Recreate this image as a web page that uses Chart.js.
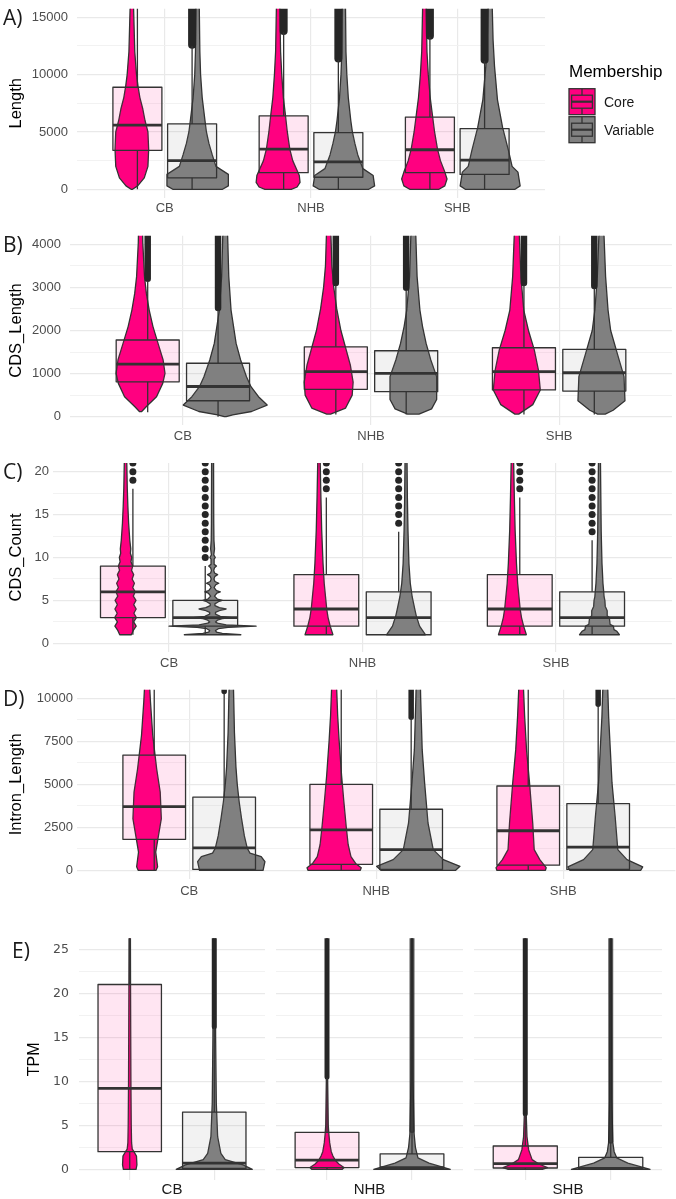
<!DOCTYPE html>
<html>
<head>
<meta charset="utf-8">
<script src="https://cdn.jsdelivr.net/npm/chart.js@4.4.1/dist/chart.umd.min.js"></script>
<style>
  body { margin: 0; background: #fff; width: 676px; height: 1199px; position: relative; overflow: hidden; }
  .panel { position: absolute; }
  .tag { position: absolute; font-family: 'Open Sans', sans-serif; font-size: 21px; line-height: 24px; color: #1a1a1a; z-index: 2; }
</style>
</head>
<body>
<div class="panel" style="left:0;top:0;width:676px;height:230px"><canvas id="cA"></canvas></div>
<div class="panel" style="left:0;top:228px;width:676px;height:230px"><canvas id="cB"></canvas></div>
<div class="panel" style="left:0;top:456px;width:676px;height:230px"><canvas id="cC"></canvas></div>
<div class="panel" style="left:0;top:684px;width:676px;height:232px"><canvas id="cD"></canvas></div>
<div class="panel" style="left:0;top:920px;width:265px;height:279px"><canvas id="cE1"></canvas></div>
<div class="panel" style="left:276px;top:920px;width:187px;height:279px"><canvas id="cE2"></canvas></div>
<div class="panel" style="left:474px;top:920px;width:188px;height:279px"><canvas id="cE3"></canvas></div>

<div class="tag" style="left:3px;top:5px">A)</div>
<div class="tag" style="left:3px;top:232px">B)</div>
<div class="tag" style="left:3px;top:459px">C)</div>
<div class="tag" style="left:3px;top:686px">D)</div>
<div class="tag" style="left:12px;top:938px">E)</div>

<script>
// ---- data ----
const categories = ['CB', 'NHB', 'SHB'];
const memberships = ['Core', 'Variable'];

// box = [lower whisker, q1, median, q3, upper whisker]
// violin = [value, half width (x units)]

// A) Length
const lengthTicks = [0, 5000, 10000, 15000];
const lengthBoxCore = [[0, 3400, 5600, 8900, 17500], [0, 1450, 3500, 6400, 13700], [0, 1450, 3450, 6300, 13300]];
const lengthBoxVariable = [[0, 1000, 2500, 5700, 12500], [0, 1050, 2400, 4950, 11300], [0, 1300, 2550, 5300, 11200]];
const lengthOutFromCore = [null, 13800, 13400];
const lengthOutFromVariable = [12600, 11400, 11300];
const lengthViolinCore = [
  [[0, 0.005], [300, 0.04], [1000, 0.085], [2000, 0.11], [3500, 0.115], [5000, 0.11], [6000, 0.09], [7000, 0.075], [8000, 0.055], [9000, 0.042], [10000, 0.032], [12000, 0.02], [15750, 0.012], [17000, 0.01]],
  [[0, 0.09], [200, 0.13], [600, 0.15], [1200, 0.145], [2500, 0.1], [3500, 0.08], [5000, 0.063], [6500, 0.05], [8000, 0.036], [10000, 0.025], [12000, 0.017], [17000, 0.01]],
  [[0, 0.1], [300, 0.14], [900, 0.155], [1500, 0.14], [2500, 0.11], [3500, 0.09], [5000, 0.07], [6500, 0.055], [8000, 0.04], [10000, 0.027], [12000, 0.018], [17000, 0.01]]
];
const lengthViolinVariable = [
  [[0, 0.17], [300, 0.21], [1300, 0.21], [2000, 0.125], [3000, 0.1], [4000, 0.077], [5000, 0.06], [6000, 0.05], [8000, 0.031], [10000, 0.02], [12000, 0.015], [17000, 0.01]],
  [[0, 0.17], [300, 0.21], [1200, 0.2], [1800, 0.13], [3000, 0.095], [4000, 0.075], [5000, 0.058], [6000, 0.047], [8000, 0.03], [10000, 0.02], [12000, 0.014], [17000, 0.01]],
  [[0, 0.17], [300, 0.205], [1500, 0.19], [2000, 0.15], [3400, 0.125], [5400, 0.085], [7800, 0.05], [10700, 0.03], [13000, 0.02], [17000, 0.012]]
];

// B) CDS_Length
const cdsLengthTicks = [0, 1000, 2000, 3000, 4000];
const cdsLengthBoxCore = [[100, 810, 1220, 1780, 3150], [50, 635, 1045, 1620, 3050], [50, 620, 1045, 1600, 3050]];
const cdsLengthBoxVariable = [[0, 370, 700, 1240, 2470], [50, 580, 1005, 1530, 2940], [50, 595, 1020, 1560, 2980]];
const cdsLengthOutFromCore = [3200, 3100, 3100];
const cdsLengthOutFromVariable = [2520, 2990, 3030];
const cdsLengthViolinCore = [
  [[116, 0.005], [230, 0.03], [464, 0.085], [773, 0.118], [1005, 0.13], [1315, 0.12], [1700, 0.093], [2090, 0.066], [2475, 0.046], [2860, 0.031], [3250, 0.021], [4030, 0.012], [4500, 0.01]],
  [[60, 0.01], [200, 0.09], [500, 0.125], [800, 0.13], [1200, 0.115], [1600, 0.09], [2000, 0.065], [2500, 0.043], [3000, 0.027], [3500, 0.017], [4500, 0.01]],
  [[60, 0.01], [280, 0.085], [620, 0.125], [1080, 0.115], [1550, 0.093], [2000, 0.062], [2475, 0.037], [3250, 0.022], [4500, 0.011]]
];
const cdsLengthViolinVariable = [
  [[0, 0.005], [40, 0.04], [120, 0.14], [270, 0.223], [464, 0.177], [696, 0.137], [928, 0.113], [1315, 0.082], [1700, 0.058], [2475, 0.031], [3250, 0.019], [4500, 0.011]],
  [[60, 0.03], [180, 0.097], [400, 0.124], [930, 0.124], [1315, 0.093], [1700, 0.068], [2090, 0.049], [2475, 0.035], [3250, 0.02], [4500, 0.011]],
  [[60, 0.02], [150, 0.062], [370, 0.125], [930, 0.12], [1470, 0.084], [2000, 0.049], [2475, 0.035], [3250, 0.022], [4500, 0.011]]
];

// C) CDS_Count
const cdsCountTicks = [0, 5, 10, 15, 20];
const cdsCountBoxCore = [[1, 3, 6, 9, 18], [1, 2, 4, 8, 17], [1, 2, 4, 8, 17]];
const cdsCountBoxVariable = [[1, 2, 3, 5, 9], [1, 1, 3, 6, 13], [1, 2, 3, 6, 12]];
const cdsCountOutCore = [[19, 20, 21], [18, 19, 20, 21], [18, 19, 20, 21]];
const cdsCountOutVariable = [
  [10, 11, 12, 13, 14, 15, 16, 17, 18, 19, 20, 21],
  [14, 15, 16, 17, 18, 19, 20, 21],
  [13, 14, 15, 16, 17, 18, 19, 20, 21]
];
const cdsCountViolinCore = [
  [[1, 0.03], [1.5, 0.04], [2, 0.055], [2.5, 0.042], [3, 0.056], [3.5, 0.043], [4, 0.055], [4.5, 0.042], [5, 0.054], [5.5, 0.04], [6, 0.05], [6.5, 0.037], [7, 0.046], [7.5, 0.034], [8, 0.042], [8.5, 0.031], [9, 0.037], [9.5, 0.028], [10, 0.032], [10.5, 0.025], [11, 0.027], [12, 0.022], [13, 0.019], [14, 0.016], [15, 0.014], [16, 0.012], [18, 0.009], [21.5, 0.006]],
  [[1, 0.072], [1.3, 0.068], [2, 0.058], [3, 0.047], [4, 0.04], [5.4, 0.034], [7, 0.027], [9.3, 0.021], [13.2, 0.014], [17, 0.01], [21.5, 0.006]],
  [[1, 0.072], [1.3, 0.068], [2, 0.058], [3, 0.047], [4, 0.04], [5.4, 0.034], [7, 0.027], [9.3, 0.021], [13.2, 0.014], [17, 0.01], [21.5, 0.006]]
];
const cdsCountViolinVariable = [
  [[1, 0.146], [1.15, 0.05], [1.3, 0.02], [1.5, 0.015], [1.7, 0.03], [1.85, 0.08], [2, 0.225], [2.15, 0.07], [2.35, 0.025], [2.5, 0.015], [2.7, 0.025], [2.88, 0.05], [3, 0.1], [3.15, 0.04], [3.4, 0.015], [3.6, 0.015], [3.85, 0.04], [4, 0.07], [4.15, 0.035], [4.4, 0.012], [4.6, 0.012], [4.85, 0.03], [5, 0.05], [5.15, 0.025], [5.5, 0.01], [5.85, 0.022], [6, 0.04], [6.15, 0.02], [6.5, 0.008], [6.85, 0.017], [7, 0.032], [7.2, 0.012], [7.5, 0.007], [7.8, 0.012], [8, 0.026], [8.2, 0.01], [8.5, 0.006], [8.8, 0.01], [9, 0.02], [9.2, 0.008], [9.8, 0.008], [10, 0.014], [10.3, 0.006], [11, 0.01], [12, 0.007], [14, 0.006], [21.5, 0.005]],
  [[1, 0.1], [1.5, 0.085], [2, 0.07], [3.2, 0.053], [4, 0.045], [5.4, 0.032], [7, 0.022], [9.3, 0.015], [13.2, 0.01], [17, 0.007], [21.5, 0.005]],
  [[1, 0.103], [1.4, 0.09], [1.6, 0.075], [2, 0.072], [2.2, 0.055], [2.8, 0.052], [3, 0.05], [3.2, 0.04], [3.8, 0.04], [4, 0.036], [4.3, 0.03], [5, 0.028], [5.4, 0.024], [6, 0.022], [7, 0.018], [8, 0.016], [9.3, 0.013], [13, 0.009], [21.5, 0.005]]
];

// D) Intron_Length
const intronTicks = [0, 2500, 5000, 7500, 10000];
const intronBoxCore = [[0, 1800, 3700, 6700, 13000], [0, 350, 2350, 5000, 12000], [0, 300, 2300, 4900, 11500]];
const intronBoxVariable = [[0, 50, 1300, 4250, 10300], [0, 50, 1200, 3550, 8850], [0, 50, 1350, 3880, 9600]];
const intronOutFromCore = [null, null, null];
const intronOutFromVariable = [10400, 8900, 9650];
const intronViolinCore = [
  [[0, 0.048], [200, 0.056], [1060, 0.046], [1840, 0.058], [3000, 0.076], [4550, 0.07], [5900, 0.051], [7850, 0.03], [9780, 0.018], [11000, 0.012]],
  [[0, 0.14], [150, 0.145], [400, 0.115], [800, 0.09], [1500, 0.075], [2500, 0.065], [4000, 0.052], [5500, 0.04], [7500, 0.027], [9000, 0.019], [11000, 0.012]],
  [[0, 0.13], [150, 0.134], [620, 0.1], [1200, 0.07], [2750, 0.062], [5080, 0.045], [7000, 0.029], [8920, 0.019], [11000, 0.011]]
];
const intronViolinVariable = [
  [[0, 0.17], [500, 0.18], [800, 0.16], [1000, 0.1], [1300, 0.085], [2000, 0.07], [3000, 0.055], [4000, 0.042], [5000, 0.032], [6000, 0.025], [8000, 0.017], [11000, 0.011]],
  [[0, 0.2], [230, 0.223], [620, 0.134], [1200, 0.08], [2750, 0.052], [5080, 0.034], [7000, 0.021], [9930, 0.013], [11000, 0.011]],
  [[0, 0.19], [200, 0.2], [620, 0.116], [1200, 0.067], [3100, 0.053], [5080, 0.036], [7000, 0.027], [8920, 0.018], [11000, 0.012]]
];

// E) TPM (one facet per category, x = membership)
const tpmTicks = [0, 5, 10, 15, 20, 25];
const tpmBoxCore = [[0, 2, 9.2, 21, 40], [0, 0.2, 1.05, 4.2, 10.4], [0, 0.15, 0.65, 2.65, 6.2]];
const tpmBoxVariable = [[0, 0.1, 0.7, 6.5, 16.1], [0, 0.05, 0.2, 1.75, 4.3], [0, 0.05, 0.1, 1.35, 3.1]];
const tpmOutFromCore = [null, 10.5, 6.3];
const tpmOutFromVariable = [16.2, 4.4, 3.2];
const tpmViolinCore = [
  [[0, 0.075], [0.5, 0.085], [1.5, 0.08], [2, 0.05], [2.3, 0.03], [3, 0.022], [5, 0.018], [10, 0.014], [20, 0.01], [27, 0.008]],
  [[0, 0.18], [0.2, 0.2], [0.6, 0.14], [1, 0.1], [1.5, 0.07], [2, 0.05], [3, 0.032], [4, 0.022], [5, 0.015], [10, 0.008], [27, 0.005]],
  [[0, 0.2], [0.2, 0.26], [0.6, 0.16], [1.1, 0.08], [2.2, 0.04], [3.7, 0.02], [6, 0.012], [27, 0.005]]
];
const tpmViolinVariable = [
  [[0, 0.45], [0.5, 0.34], [1.1, 0.13], [1.8, 0.078], [3.7, 0.04], [7.5, 0.024], [15, 0.016], [27, 0.012]],
  [[0, 0.45], [0.7, 0.2], [1.3, 0.07], [2.5, 0.04], [4, 0.025], [10, 0.012], [27, 0.008]],
  [[0, 0.46], [0.7, 0.2], [1.3, 0.07], [2, 0.04], [3, 0.025], [8, 0.012], [27, 0.008]]
];

// ---- styles ----
Chart.defaults.font.family = "'Liberation Sans', Arial, sans-serif";
const CORE_COL = '#ff0080', VAR_COL = '#808080';
const CORE_BOX = 'rgba(255,0,128,0.1)', VAR_BOX = 'rgba(128,128,128,0.1)';
const INK = '#333333';
const TXT = '#4d4d4d';

function drawGroup(ctx, xs, ys, g, colW) {
  const px = v => xs.getPixelForValue(v);
  const py = v => ys.getPixelForValue(v);
  ctx.lineJoin = 'round';
  // violin
  const vc = g.pos + g.violinOff;
  ctx.beginPath();
  g.violin.forEach(([v, w], i) => {
    if (i) ctx.lineTo(px(vc - w), py(v)); else ctx.moveTo(px(vc - w), py(v));
  });
  for (let i = g.violin.length - 1; i >= 0; i--) {
    const [v, w] = g.violin[i];
    ctx.lineTo(px(vc + w), py(v));
  }
  ctx.closePath();
  ctx.fillStyle = g.color;
  ctx.fill();
  ctx.lineWidth = 1.3;
  ctx.strokeStyle = INK;
  ctx.stroke();

  // boxplot
  const [lo, q1, med, q3, hi] = g.box;
  const bc = px(g.pos + g.boxOff);
  const bl = px(g.pos + g.boxOff - g.boxWidth / 2);
  const br = px(g.pos + g.boxOff + g.boxWidth / 2);
  if (g.outFrom != null) {
    ctx.save();
    ctx.lineCap = 'round';
    ctx.lineWidth = colW;
    ctx.strokeStyle = g.outColor || '#262626';
    ctx.beginPath();
    ctx.moveTo(bc, py(g.outFrom));
    ctx.lineTo(bc, py(ys.max) - 20);
    ctx.stroke();
    ctx.restore();
  }
  ctx.lineWidth = 1.3;
  ctx.strokeStyle = INK;
  ctx.beginPath();
  ctx.moveTo(bc, py(lo)); ctx.lineTo(bc, py(q1));
  ctx.moveTo(bc, py(q3)); ctx.lineTo(bc, py(hi));
  ctx.stroke();
  ctx.fillStyle = g.boxFill;
  ctx.fillRect(bl, py(q3), br - bl, py(q1) - py(q3));
  ctx.strokeRect(bl, py(q3), br - bl, py(q1) - py(q3));
  ctx.lineWidth = 2.8;
  ctx.beginPath();
  ctx.moveTo(bl, py(med)); ctx.lineTo(br, py(med));
  ctx.stroke();
}

function drawKey(ctx, x, y, s, col) {
  ctx.fillStyle = col;
  ctx.fillRect(x, y, s, s);
  ctx.strokeStyle = INK;
  ctx.lineWidth = 1.3;
  ctx.strokeRect(x, y, s, s);
  ctx.beginPath();
  ctx.moveTo(x + s / 2, y); ctx.lineTo(x + s / 2, y + s * 0.25);
  ctx.moveTo(x + s / 2, y + s * 0.75); ctx.lineTo(x + s / 2, y + s);
  ctx.stroke();
  ctx.strokeRect(x + s * 0.1, y + s * 0.25, s * 0.8, s * 0.5);
  ctx.lineWidth = 2.2;
  ctx.beginPath();
  ctx.moveTo(x + s * 0.1, y + s * 0.5); ctx.lineTo(x + s * 0.9, y + s * 0.5);
  ctx.stroke();
}

const vboxPlugin = {
  id: 'vbox',
  beforeDatasetsDraw(chart, args, opts) {
    const { ctx, chartArea: a } = chart;
    ctx.save();
    ctx.beginPath();
    ctx.rect(a.left, a.top, a.right - a.left, a.bottom - a.top);
    ctx.clip();
    (opts.groups || []).forEach(g => drawGroup(ctx, chart.scales.x, chart.scales.y, g, opts.colWidth));
    ctx.restore();
  },
  afterDraw(chart, args, opts) {
    if (!opts.legend) return;
    const { ctx, chartArea: a } = chart;
    const x0 = a.right + 24;
    ctx.save();
    ctx.textBaseline = 'middle';
    ctx.textAlign = 'left';
    ctx.fillStyle = '#000';
    ctx.font = "17px 'Liberation Sans', Arial, sans-serif";
    ctx.fillText('Membership', x0, a.top + 64);
    memberships.forEach((m, i) => {
      const ky = a.top + 80 + i * 28;
      drawKey(ctx, x0, ky, 26, i ? VAR_COL : CORE_COL);
      ctx.fillStyle = '#1a1a1a';
      ctx.font = "14px 'Liberation Sans', Arial, sans-serif";
      ctx.fillText(m, x0 + 35, ky + 14);
    });
    ctx.restore();
  }
};

// dodged groups for panels A-D
function dodgedGroups(boxC, boxV, outC, outV, vioC, vioV) {
  const gs = [];
  categories.forEach((c, i) => {
    gs.push({ pos: i + 1, violinOff: -0.225, boxOff: -0.187, boxWidth: 0.335, color: CORE_COL, boxFill: CORE_BOX,
      box: boxC[i], outFrom: outC ? outC[i] : null, violin: vioC[i] });
    gs.push({ pos: i + 1, violinOff: 0.225, boxOff: 0.187, boxWidth: 0.335, color: VAR_COL, boxFill: VAR_BOX,
      box: boxV[i], outFrom: outV ? outV[i] : null, violin: vioV[i] });
  });
  return gs;
}

function outlierPoints(list, off) {
  const pts = [];
  list.forEach((vals, i) => vals.forEach(v => pts.push({ x: i + 1 + off, y: v })));
  return pts;
}

function panel(id, o) {
  const majors = o.yTicks;
  const minors = [];
  for (let i = 0; i < majors.length - 1; i++) minors.push((majors[i] + majors[i + 1]) / 2);
  const yValues = majors.concat(minors).sort((a, b) => a - b);
  const isMajor = c => c.tick && majors.includes(c.tick.value);
  return new Chart(document.getElementById(id), {
    type: 'scatter',
    data: { datasets: o.points || [] },
    options: {
      responsive: true,
      maintainAspectRatio: false,
      animation: false,
      events: [],
      layout: { padding: { top: o.padTop, right: o.padRight, left: 0, bottom: 0 } },
      plugins: {
        legend: { display: false },
        tooltip: { enabled: false },
        vbox: { groups: o.groups, legend: !!o.legend, colWidth: o.colWidth }
      },
      scales: {
        x: {
          type: 'linear', min: o.xMin, max: o.xMax,
          afterBuildTicks: s => { s.ticks = o.xTicks.map(v => ({ value: v })); },
          afterFit: s => { s.height = o.xHeight; s.paddingLeft = 0; s.paddingRight = 0; },
          ticks: {
            display: !!o.xLabels, padding: o.xPad, color: TXT, font: { size: 13 },
            autoSkip: false, maxRotation: 0,
            callback: v => o.xLabels ? o.xLabels[o.xTicks.indexOf(v)] : ''
          },
          grid: { color: '#e9e9e9', lineWidth: 1.2, drawTicks: false },
          border: { display: false },
          title: { display: !!o.xTitle, text: o.xTitle, color: '#1a1a1a', font: { size: 15 }, padding: { top: 0, bottom: 0 } }
        },
        y: {
          type: 'linear', min: o.yMin, max: o.yMax,
          afterBuildTicks: s => { s.ticks = yValues.map(v => ({ value: v })); },
          afterFit: s => { s.width = o.yWidth; s.paddingTop = 0; s.paddingBottom = 0; },
          ticks: {
            display: o.showY, padding: o.yPad, color: TXT,
            font: o.yFont || { size: 13 },
            callback: v => majors.includes(v) ? String(v) : ''
          },
          grid: {
            color: c => isMajor(c) ? '#e9e9e9' : '#f0f0f0',
            lineWidth: c => isMajor(c) ? 1.2 : 0.9,
            drawTicks: false
          },
          border: { display: false },
          title: { display: o.showY, text: o.yTitle, color: '#000', font: { size: o.titleSize || 16.5 }, padding: { top: o.titlePad, bottom: 0 } }
        }
      }
    },
    plugins: [vboxPlugin]
  });
}

const catTicks = [1, 2, 3];

// A
panel('cA', {
  xMin: 0.4, xMax: 3.6, xTicks: catTicks, xLabels: categories, xPad: 2.3, xHeight: 32.1,
  yMin: -750, yMax: 15750, yTicks: lengthTicks, yTitle: 'Length', showY: true, yWidth: 77, yPad: 9, titlePad: 7,
  padTop: 8.7, padRight: 131, colWidth: 8, legend: true,
  groups: dodgedGroups(lengthBoxCore, lengthBoxVariable, lengthOutFromCore, lengthOutFromVariable, lengthViolinCore, lengthViolinVariable)
});

// B
panel('cB', {
  xMin: 0.4, xMax: 3.6, xTicks: catTicks, xLabels: categories, xPad: 2.9, xHeight: 32.7,
  yMin: -200, yMax: 4200, yTicks: cdsLengthTicks, yTitle: 'CDS_Length', showY: true, yWidth: 70, yPad: 9, titlePad: 7,
  padTop: 7.7, padRight: 4, colWidth: 6.5,
  groups: dodgedGroups(cdsLengthBoxCore, cdsLengthBoxVariable, cdsLengthOutFromCore, cdsLengthOutFromVariable, cdsLengthViolinCore, cdsLengthViolinVariable)
});

// C
panel('cC', {
  xMin: 0.4, xMax: 3.6, xTicks: catTicks, xLabels: categories, xPad: 3.3, xHeight: 34.1,
  yMin: -1, yMax: 21, yTicks: cdsCountTicks, yTitle: 'CDS_Count', showY: true, yWidth: 53, yPad: 4, titlePad: 7,
  padTop: 7.1, padRight: 2.2, colWidth: 6,
  groups: dodgedGroups(cdsCountBoxCore, cdsCountBoxVariable, null, null, cdsCountViolinCore, cdsCountViolinVariable),
  points: [
    { label: 'Core outliers', data: outlierPoints(cdsCountOutCore, -0.187), pointRadius: 3.5, backgroundColor: '#262626', borderWidth: 0 },
    { label: 'Variable outliers', data: outlierPoints(cdsCountOutVariable, 0.187), pointRadius: 3.5, backgroundColor: '#262626', borderWidth: 0 }
  ]
});

// D
panel('cD', {
  xMin: 0.4, xMax: 3.6, xTicks: catTicks, xLabels: categories, xPad: 5, xHeight: 37.1,
  yMin: -500, yMax: 10500, yTicks: intronTicks, yTitle: 'Intron_Length', showY: true, yWidth: 77, yPad: 4, titlePad: 7,
  padTop: 5.7, padRight: 0.6, colWidth: 5.5,
  groups: dodgedGroups(intronBoxCore, intronBoxVariable, intronOutFromCore, intronOutFromVariable, intronViolinCore, intronViolinVariable)
});

// E facets
categories.forEach((cat, i) => {
  const light = i > 0 ? 'rgba(38,38,38,0.75)' : '#262626';
  panel('cE' + (i + 1), {
    xMin: 0.4, xMax: 2.6, xTicks: [1, 2], xLabels: null, xHeight: 18.7, xTitle: cat,
    yMin: -1.25, yMax: 26.25, yTicks: tpmTicks, yTitle: 'TPM', showY: i === 0, yWidth: i === 0 ? 79 : 0,
    yPad: 10, titlePad: 25, titleSize: 16, yFont: { size: 12.5, family: "'DejaVu Sans', sans-serif" },
    padTop: 18.3, padRight: 0, colWidth: 5,
    groups: [
      { pos: 1, violinOff: 0, boxOff: 0, boxWidth: 0.75, color: CORE_COL, boxFill: CORE_BOX,
        box: tpmBoxCore[i], outFrom: tpmOutFromCore[i], violin: tpmViolinCore[i] },
      { pos: 2, violinOff: 0, boxOff: 0, boxWidth: 0.75, color: VAR_COL, boxFill: VAR_BOX,
        box: tpmBoxVariable[i], outFrom: tpmOutFromVariable[i], violin: tpmViolinVariable[i], outColor: light }
    ]
  });
});
</script>
</body>
</html>
